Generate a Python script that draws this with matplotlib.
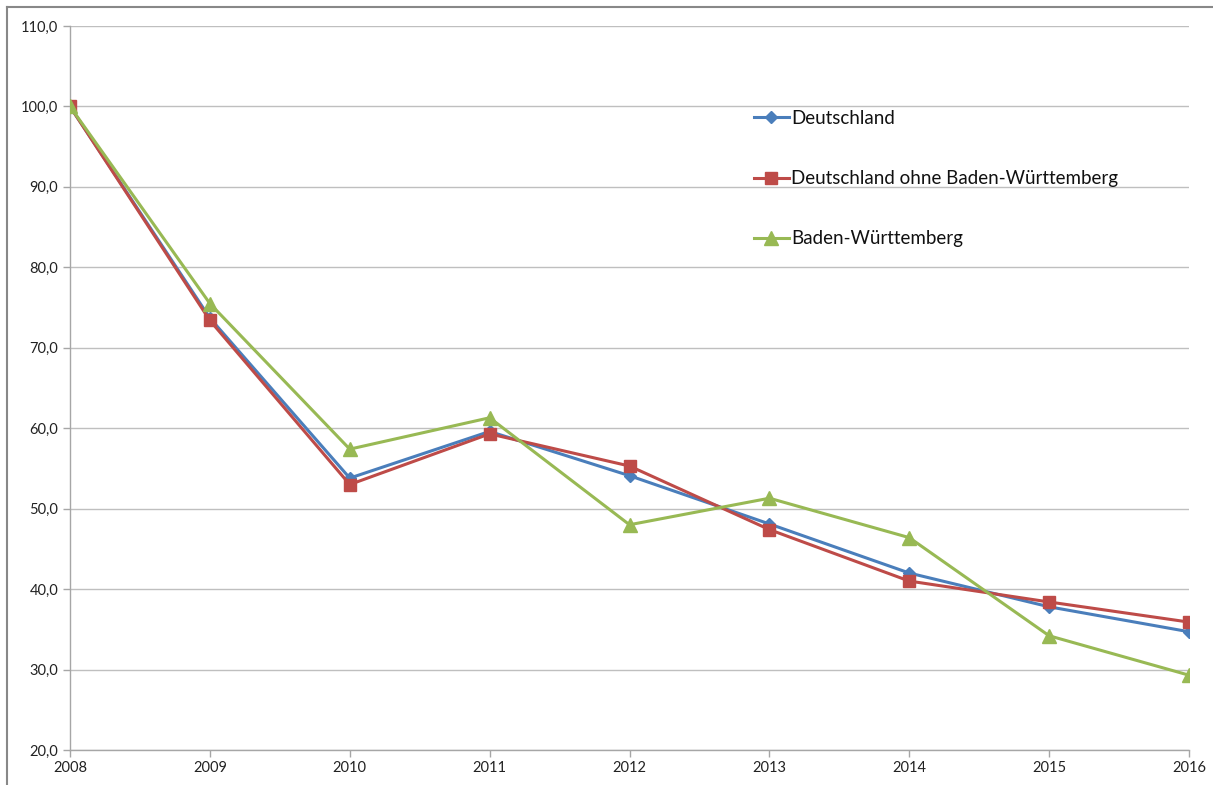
import matplotlib
matplotlib.use("Agg")
import matplotlib.pyplot as plt
from matplotlib.lines import Line2D

plt.rcParams['font.family'] = ['Lato', 'DejaVu Sans']

# data
jahre = [2008, 2009, 2010, 2011, 2012, 2013, 2014, 2015, 2016]
deutschland = [100.0, 73.7, 53.8, 59.6, 54.1, 48.1, 42.0, 37.8, 34.7]
ohne_bw = [100.0, 73.4, 53.0, 59.3, 55.3, 47.4, 41.0, 38.4, 35.9]
bw = [100.0, 75.5, 57.4, 61.3, 48.0, 51.3, 46.4, 34.2, 29.3]

namen = ['Deutschland', 'Deutschland ohne Baden-Württemberg', 'Baden-Württemberg']
y_ticks = [20, 30, 40, 50, 60, 70, 80, 90, 100, 110]

fig = plt.figure(figsize=(12.13, 7.85), dpi=100)
ax = fig.add_axes([70 / 1213, 1 - 750 / 785, 1119 / 1213, 724 / 785])

ax.plot(jahre, deutschland, color='#4A7EBB', lw=2.2, marker='D', ms=6, label=namen[0], zorder=3)
ax.plot(jahre, ohne_bw, color='#BE4B48', lw=2.2, marker='s', ms=9, label=namen[1], zorder=4)
ax.plot(jahre, bw, color='#98B954', lw=2.2, marker='^', ms=10, label=namen[2], zorder=5)

ax.set_xlim(jahre[0], jahre[-1])
ax.set_ylim(20, 110)
ax.set_xticks(jahre)
ax.set_yticks(y_ticks)
ax.set_yticklabels([f"{v:.1f}".replace('.', ',') for v in y_ticks])
ax.grid(axis='y', color='#BFBFBF', lw=1)
ax.set_axisbelow(True)

for s in ['top', 'right']:
    ax.spines[s].set_visible(False)
for s in ['left', 'bottom']:
    ax.spines[s].set_color('#A6A6A6')
    ax.spines[s].set_linewidth(1)
ax.tick_params(axis='both', colors='#A6A6A6', length=5, width=1, labelsize=10.5,
               labelcolor='#222222')
ax.tick_params(axis='x', pad=3)

leg = ax.legend(loc='upper left', bbox_to_anchor=(0.6025, 0.897), frameon=False,
                fontsize=13.5, labelspacing=2.3, handlelength=1.9, handletextpad=0.1,
                borderpad=0)
for t in leg.get_texts():
    t.set_color('#111111')

# outer chart frame
fig.add_artist(Line2D([7 / 1213, 1], [1 - 7 / 785, 1 - 7 / 785], color='#888888', lw=1.5,
                      transform=fig.transFigure))
fig.add_artist(Line2D([7 / 1213, 7 / 1213], [0, 1 - 7 / 785], color='#888888', lw=1.5,
                      transform=fig.transFigure))

fig.savefig('out.png', dpi=100)
